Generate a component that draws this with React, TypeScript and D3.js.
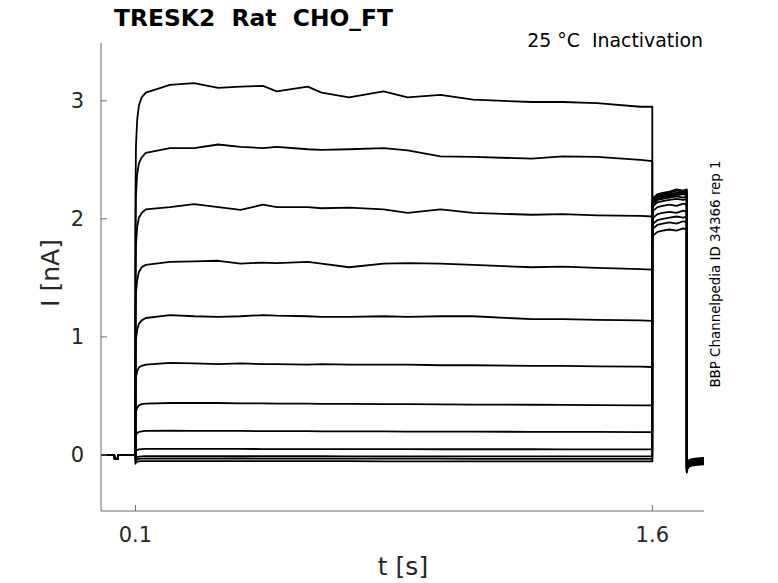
import React from "react";
import * as d3 from "d3";

const W = 778;
const H = 583;

// time grids (s)
const baseT = [0, 0.038, 0.04, 0.048, 0.05, 0.1];
const baseV = [0, 0, -0.035, -0.035, 0, 0];
const pulseT = [0.1, 0.1015, 0.105, 0.11, 0.118, 0.13, 0.2, 0.27, 0.34, 0.405, 0.47, 0.51, 0.6, 0.64, 0.72, 0.82, 0.89, 0.985, 1.08, 1.25, 1.34, 1.44, 1.565, 1.6];
const tailT = [1.6, 1.603, 1.615, 1.63, 1.65, 1.67, 1.69, 1.7];
const postT = [1.7, 1.7015, 1.706, 1.715, 1.73, 1.75];

// current (nA) during prepulse, per sweep
const pulse1 = [2.2, 2.62, 2.84, 2.96, 3.03, 3.07, 3.136, 3.15, 3.11, 3.12, 3.127, 3.08, 3.12, 3.07, 3.03, 3.08, 3.03, 3.05, 3.01, 2.99, 2.99, 2.98, 2.95, 2.95];
const pulse2 = [1.85, 2.2, 2.38, 2.47, 2.52, 2.56, 2.6, 2.6, 2.63, 2.61, 2.6, 2.61, 2.59, 2.585, 2.59, 2.6, 2.58, 2.53, 2.525, 2.51, 2.53, 2.525, 2.5, 2.49];
const pulse3 = [1.5, 1.78, 1.93, 2.01, 2.05, 2.08, 2.1, 2.125, 2.1, 2.076, 2.12, 2.1, 2.1, 2.09, 2.095, 2.08, 2.05, 2.08, 2.05, 2.035, 2.04, 2.03, 2.025, 2.02];
const pulse4 = [1.15, 1.37, 1.48, 1.55, 1.59, 1.61, 1.635, 1.64, 1.645, 1.62, 1.63, 1.625, 1.635, 1.62, 1.59, 1.62, 1.625, 1.62, 1.61, 1.59, 1.595, 1.585, 1.575, 1.57];
const pulse5 = [0.82, 0.98, 1.06, 1.11, 1.14, 1.16, 1.185, 1.175, 1.17, 1.175, 1.185, 1.18, 1.175, 1.17, 1.17, 1.175, 1.17, 1.175, 1.175, 1.15, 1.15, 1.145, 1.14, 1.135];
const pulse6 = [0.55, 0.66, 0.71, 0.74, 0.755, 0.765, 0.78, 0.775, 0.77, 0.775, 0.77, 0.77, 0.765, 0.77, 0.765, 0.765, 0.765, 0.76, 0.76, 0.755, 0.755, 0.75, 0.748, 0.745];
const pulse7 = [0.31, 0.37, 0.4, 0.42, 0.43, 0.435, 0.44, 0.44, 0.44, 0.437, 0.437, 0.435, 0.435, 0.433, 0.432, 0.43, 0.43, 0.428, 0.427, 0.425, 0.424, 0.422, 0.42, 0.42];
const pulse8 = [0.14, 0.17, 0.185, 0.195, 0.2, 0.203, 0.205, 0.204, 0.203, 0.203, 0.202, 0.202, 0.201, 0.2, 0.2, 0.199, 0.198, 0.198, 0.197, 0.196, 0.196, 0.195, 0.194, 0.194];
const pulse9 = [0.02, 0.035, 0.042, 0.047, 0.05, 0.051, 0.052, 0.052, 0.051, 0.051, 0.05, 0.05, 0.05, 0.05, 0.049, 0.049, 0.049, 0.048, 0.048, 0.048, 0.047, 0.047, 0.047, 0.047];
const pulse10 = [-0.04, -0.025, -0.018, -0.014, -0.012, -0.011, -0.01, -0.01, -0.01, -0.011, -0.011, -0.011, -0.011, -0.011, -0.012, -0.012, -0.012, -0.012, -0.012, -0.013, -0.013, -0.013, -0.013, -0.013];
const pulse11 = [-0.06, -0.045, -0.038, -0.034, -0.032, -0.031, -0.03, -0.03, -0.03, -0.03, -0.031, -0.031, -0.031, -0.031, -0.032, -0.032, -0.032, -0.032, -0.033, -0.033, -0.033, -0.033, -0.034, -0.034];
const pulse12 = [-0.075, -0.063, -0.057, -0.054, -0.053, -0.052, -0.052, -0.052, -0.052, -0.052, -0.053, -0.053, -0.053, -0.053, -0.053, -0.054, -0.054, -0.054, -0.054, -0.055, -0.055, -0.055, -0.055, -0.055];

// tail current (nA), per sweep
const tail1 = [1.82, 1.86, 1.89, 1.9, 1.91, 1.9, 1.92, 1.91];
const tail2 = [1.88, 1.92, 1.95, 1.96, 1.97, 1.96, 1.98, 1.97];
const tail3 = [1.92, 1.96, 1.99, 2.0, 2.01, 2.02, 2.01, 2.02];
const tail4 = [1.97, 2.01, 2.04, 2.05, 2.06, 2.05, 2.07, 2.06];
const tail5 = [2.03, 2.07, 2.1, 2.11, 2.12, 2.11, 2.13, 2.12];
const tail6 = [2.07, 2.11, 2.14, 2.15, 2.16, 2.17, 2.16, 2.17];
const tail7 = [2.09, 2.13, 2.16, 2.17, 2.18, 2.19, 2.18, 2.19];
const tail8 = [2.1, 2.14, 2.17, 2.18, 2.19, 2.2, 2.21, 2.2];
const tail9 = [2.11, 2.15, 2.18, 2.19, 2.2, 2.21, 2.22, 2.21];
const tail10 = [2.12, 2.16, 2.19, 2.2, 2.21, 2.22, 2.23, 2.22];
const tail11 = [2.13, 2.17, 2.2, 2.21, 2.22, 2.24, 2.23, 2.24];
const tail12 = [2.14, 2.18, 2.21, 2.22, 2.23, 2.25, 2.24, 2.25];

// after return to holding (nA), per sweep
const post1 = [-0.15, -0.12, -0.1, -0.09, -0.085, -0.08];
const post2 = [-0.145, -0.115, -0.095, -0.085, -0.08, -0.075];
const post3 = [-0.14, -0.11, -0.09, -0.08, -0.075, -0.07];
const post4 = [-0.135, -0.105, -0.085, -0.075, -0.07, -0.065];
const post5 = [-0.13, -0.1, -0.08, -0.07, -0.065, -0.06];
const post6 = [-0.125, -0.095, -0.075, -0.065, -0.06, -0.055];
const post7 = [-0.12, -0.09, -0.07, -0.06, -0.055, -0.05];
const post8 = [-0.115, -0.085, -0.065, -0.055, -0.05, -0.045];
const post9 = [-0.11, -0.08, -0.06, -0.05, -0.045, -0.04];
const post10 = [-0.105, -0.075, -0.055, -0.045, -0.04, -0.035];
const post11 = [-0.1, -0.07, -0.05, -0.04, -0.035, -0.03];
const post12 = [-0.095, -0.065, -0.045, -0.035, -0.03, -0.025];

const pulses = [pulse1, pulse2, pulse3, pulse4, pulse5, pulse6, pulse7, pulse8, pulse9, pulse10, pulse11, pulse12];
const tails = [tail1, tail2, tail3, tail4, tail5, tail6, tail7, tail8, tail9, tail10, tail11, tail12];
const posts = [post1, post2, post3, post4, post5, post6, post7, post8, post9, post10, post11, post12];

const xTicks = [0.1, 1.6];
const xTickLabels = ["0.1", "1.6"];
const yTicks = [0, 1, 2, 3];
const yTickLabels = ["0", "1", "2", "3"];

const title = "TRESK2  Rat  CHO_FT";
const subtitle = "25 °C  Inactivation";
const sideNote = "BBP Channelpedia ID 34366 rep 1";

const FONT = "DejaVu Sans";

export default function App() {
  const x = d3.scaleLinear().domain([0, 1.75]).range([101, 704]);
  const y = d3.scaleLinear().domain([-0.475, 3.49]).range([511, 43]);
  const line = d3
    .line<[number, number]>()
    .x((d) => x(d[0]))
    .y((d) => y(d[1]));

  const sweeps = pulses.map((p, i) => {
    const pts: [number, number][] = [];
    baseT.forEach((t, j) => pts.push([t, baseV[j]]));
    pulseT.forEach((t, j) => pts.push([t, p[j]]));
    tailT.forEach((t, j) => pts.push([t, tails[i][j]]));
    postT.forEach((t, j) => pts.push([t, posts[i][j]]));
    return pts;
  });

  const axisColor = "#6b6b6b";
  const tickColor = "#262626";
  const pre = { whiteSpace: "pre" as const };

  return (
    <svg
      width={W}
      height={H}
      style={{ position: "absolute", left: 0, top: 0, background: "#fff" }}
      fontFamily={FONT}
    >
      <rect x={0} y={0} width={W} height={H} fill="#fff" />
      {/* traces */}
      <g fill="none" stroke="#000" strokeWidth={1.8} strokeLinejoin="round">
        {sweeps.map((s, i) => (
          <path key={i} d={line(s) || ""} />
        ))}
      </g>
      {/* axes */}
      <line x1={x(0)} x2={x(0)} y1={y(3.49)} y2={y(-0.475)} stroke={axisColor} strokeWidth={1} />
      <line x1={x(0)} x2={x(1.75)} y1={y(-0.475)} y2={y(-0.475)} stroke={axisColor} strokeWidth={1} />
      {yTicks.map((v, i) => (
        <g key={"y" + i}>
          <line x1={x(0)} x2={x(0) + 6} y1={y(v)} y2={y(v)} stroke={axisColor} />
          <text
            x={x(0) - 17}
            y={y(v)}
            dy="0.36em"
            textAnchor="end"
            fontSize={21}
            fill={tickColor}
          >
            {yTickLabels[i]}
          </text>
        </g>
      ))}
      {xTicks.map((v, i) => (
        <g key={"x" + i}>
          <line x1={x(v)} x2={x(v)} y1={y(-0.475)} y2={y(-0.475) - 6} stroke={axisColor} />
          <text x={x(v)} y={542} textAnchor="middle" fontSize={21} fill={tickColor}>
            {xTickLabels[i]}
          </text>
        </g>
      ))}
      <text x={403} y={575} textAnchor="middle" fontSize={25} fill={tickColor}>
        t [s]
      </text>
      <text
        transform={`translate(59,273) rotate(-90)`}
        textAnchor="middle"
        fontSize={25}
        fill={tickColor}
      >
        I [nA]
      </text>
      <text x={114} y={26} fontSize={23.4} fontWeight="bold" fill="#000" style={pre}>
        {title}
      </text>
      <text x={703} y={47} textAnchor="end" fontSize={18.9} fill="#000" style={pre}>
        {subtitle}
      </text>
      <text
        transform={`translate(720,274) rotate(-90)`}
        textAnchor="middle"
        fontSize={13.4}
        fill="#000"
      >
        {sideNote}
      </text>
    </svg>
  );
}
